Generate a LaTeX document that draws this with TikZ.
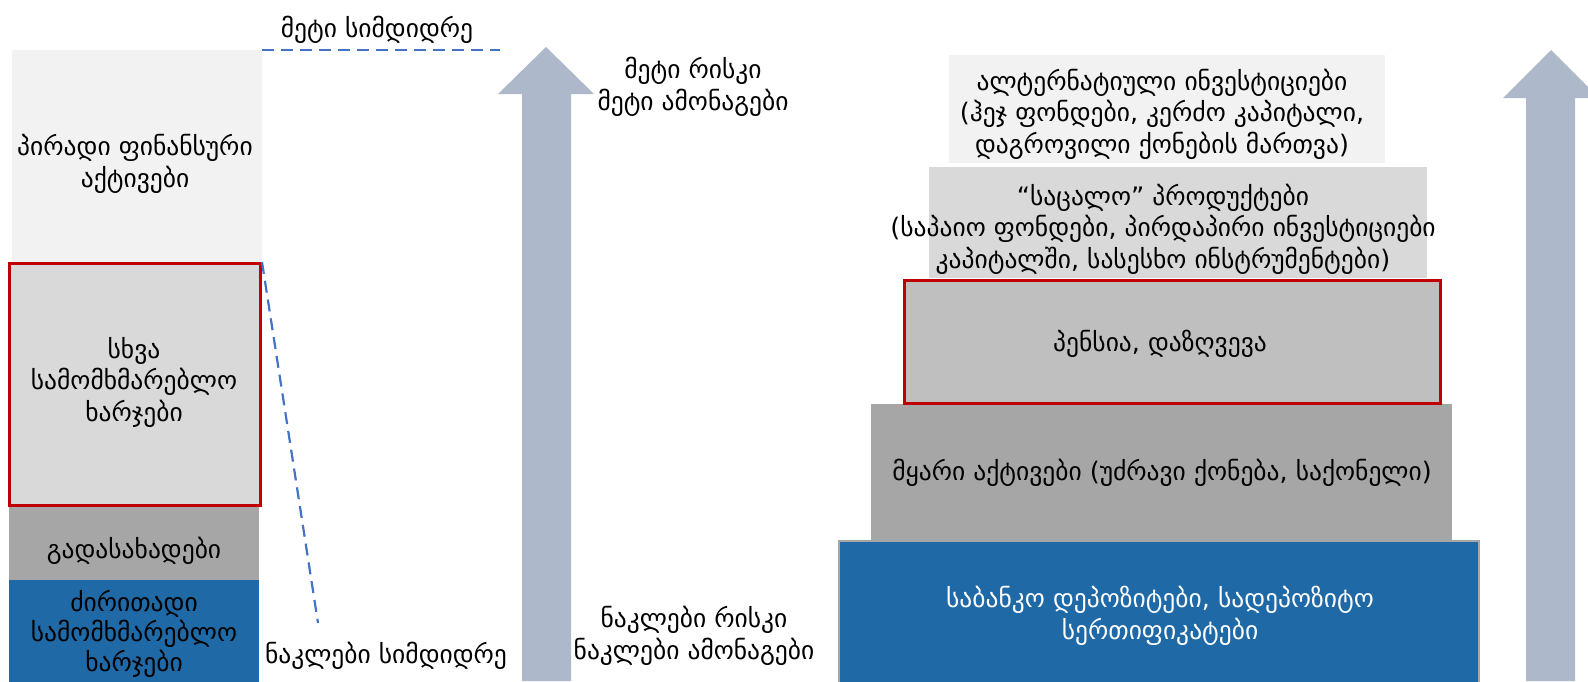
\documentclass[tikz,border=0pt]{standalone}
\usepackage{fontspec}
\setmainfont{DejaVu Sans}
\definecolor{gA}{HTML}{F2F2F2}
\definecolor{gB}{HTML}{D9D9D9}
\definecolor{gC}{HTML}{BFBFBF}
\definecolor{gD}{HTML}{A6A6A6}
\definecolor{bluebox}{HTML}{1F69A6}
\definecolor{redline}{HTML}{C00000}
\definecolor{arrowcol}{HTML}{ADB9CA}
\definecolor{dashcol}{HTML}{4472C4}
\tikzset{
  boxbase/.style={inner sep=0pt, outer sep=0pt, anchor=north west},
  redbox/.style={boxbase, draw=redline, line width=3pt},
  txt/.style={align=center, inner sep=0pt, yshift=-5pt, font=\fontsize{25.5}{31.5}\selectfont},
  guide/.style={draw=dashcol, line width=2.2pt, dash pattern=on 12pt off 7pt},
  bigarrow/.style={fill=arrowcol, draw=none}
}
\begin{document}
\begin{tikzpicture}[x=1pt,y=-1pt]
\useasboundingbox (0,0) rectangle (1588,681);
% ---------- left column ----------
\node[boxbase, fill=gA, minimum width=250pt, minimum height=212pt] (pa) at (12,50) {};
\node[txt] (tpa) at (135,159) {პირადი ფინანსური\\აქტივები};
\node[redbox, fill=gB, minimum width=251pt, minimum height=242pt] (oc) at (9.5,263.5) {};
\node[txt] (toc) at (134,377) {სხვა\\სამომხმარებლო\\ხარჯები};
\node[boxbase, fill=gD, minimum width=250pt, minimum height=73pt] (tx) at (9,507) {};
\node[txt] (ttx) at (134,546) {გადასახადები};
\node[boxbase, fill=bluebox, minimum width=250pt, minimum height=102pt] (bc) at (9,580) {};
\node[txt, font=\fontsize{25.5}{30}\selectfont] (tbc) at (134,629) {ძირითადი\\სამომხმარებლო\\ხარჯები};
% wealth labels and guides
\node[txt] (mw) at (377,25) {მეტი სიმდიდრე};
\node[txt] (lw) at (386,651) {ნაკლები სიმდიდრე};
\coordinate (g1s) at (262,50);
\coordinate (g1e) at (500,50);
\coordinate (g2s) at (262,262);
\coordinate (g2e) at (318,623);
\draw[guide] (g1s) -- (g1e);
\draw[guide] (g2s) -- (g2e);
% ---------- middle arrow ----------
\path[bigarrow] (522,681) -- (522,94) -- (498,94) -- (546,47) -- (594,94) -- (571,94) -- (571,681) -- cycle;
\node[txt] (mr) at (693,82) {მეტი რისკი\\მეტი ამონაგები};
\node[txt] (lr) at (694,631) {ნაკლები რისკი\\ნაკლები ამონაგები};
% ---------- right pyramid ----------
\node[boxbase, fill=gA, minimum width=436pt, minimum height=108pt] (r1) at (949,55) {};
\node[txt] (tr1) at (1162,109) {ალტერნატიული ინვესტიციები\\(ჰეჯ ფონდები, კერძო კაპიტალი,\\დაგროვილი ქონების მართვა)};
\node[boxbase, fill=gB, minimum width=498pt, minimum height=111pt] (r2) at (929,167) {};
\node[txt] (tr2) at (1163,224) {“საცალო” პროდუქტები\\(საპაიო ფონდები, პირდაპირი ინვესტიციები\\კაპიტალში, სასესხო ინსტრუმენტები)};
\node[boxbase, fill=gD, minimum width=581pt, minimum height=136pt] (r4) at (871,404) {};
\node[redbox, fill=gC, minimum width=536pt, minimum height=123pt] (r3) at (904.5,280.5) {};
\node[txt] (tr3) at (1160,339) {პენსია, დაზღვევა};
\node[txt] (tr4) at (1162,468) {მყარი აქტივები (უძრავი ქონება, საქონელი)};
\node[boxbase, fill=bluebox, draw=gD, line width=2pt, minimum width=640pt, minimum height=145pt] (r5) at (839,541) {};
\node[txt, text=white] (tr5) at (1160,611) {საბანკო დეპოზიტები, სადეპოზიტო\\სერთიფიკატები};
% ---------- right arrow ----------
\path[bigarrow] (1526,681) -- (1526,98) -- (1503,98) -- (1551,50) -- (1599,98) -- (1575,98) -- (1575,681) -- cycle;
\end{tikzpicture}
\end{document}
